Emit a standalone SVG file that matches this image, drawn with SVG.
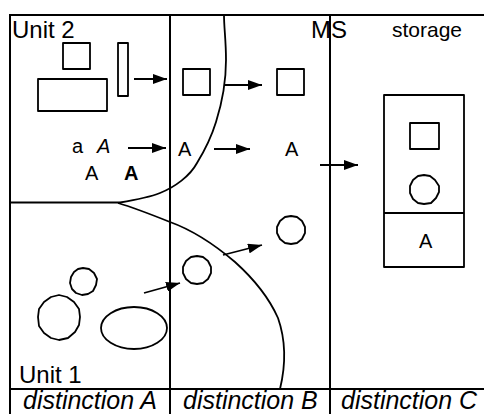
<svg xmlns="http://www.w3.org/2000/svg" width="484" height="414" viewBox="0 0 484 414">
  <style>
    .frame { fill: none; stroke: #000; stroke-width: 2; }
    .shape { fill: #fff; stroke: #000; stroke-width: 1.8; stroke-linejoin: round; }
    .curve { fill: none; stroke: #000; stroke-width: 1.8; }
    .arrow { fill: none; stroke: #000; stroke-width: 1.8; marker-end: url(#head); }
    text { font-family: "Liberation Sans", Arial, sans-serif; fill: #000; }
    .big { font-size: 24px; }
    .small { font-size: 21px; }
    .mid { font-size: 20px; }
    .cap { font-size: 25px; font-style: italic; }
  </style>
  <defs>
    <marker id="head" viewBox="0 0 14 10" refX="14" refY="5" markerUnits="userSpaceOnUse" markerWidth="14" markerHeight="10" orient="auto">
      <path d="M0,0 L14,5 L0,10 z" fill="#000"/>
    </marker>
  </defs>

  <rect width="484" height="414" fill="#fff"/>

  <!-- outer frame and column dividers -->
  <g id="grid">
    <path class="frame" d="M10,414 V15 H484"/>
    <path class="frame" d="M170,15 V414"/>
    <path class="frame" d="M330,15 V414"/>
    <path class="frame" d="M10,389 H484"/>
    <path class="frame" d="M10,202.5 H120"/>
  </g>

  <!-- unit boundaries -->
  <g id="boundaries">
    <path class="curve" d="M120,202.5 C135,200 150,197 160,193 C175,187 190,176 197,163 C205,150 212,135 216,122 C222,103 226,83 226,60 C226,40 224,28 224,15"/>
    <path class="curve" d="M118,203 C135,208 150,214 170,222 C195,231 215,245 235,262 C255,280 270,300 278,318 C285,338 287,360 280,389"/>
  </g>

  <g id="labels">
    <text class="big" x="12" y="38">Unit 2</text>
    <text class="big" x="19" y="383">Unit 1</text>
    <text class="big" x="311" y="38">MS</text>
    <text class="small" x="392" y="37">storage</text>
    <text class="cap" x="23" y="409">distinction A</text>
    <text class="cap" x="183" y="409">distinction B</text>
    <text class="cap" x="341" y="409">distinction C</text>
  </g>

  <!-- unit 2 contents -->
  <g id="u2-square"><rect class="shape" x="63" y="43" width="27" height="26"/></g>
  <g id="u2-wide"><rect class="shape" x="38" y="79" width="69" height="32"/></g>
  <g id="u2-thin"><rect class="shape" x="118" y="43" width="10" height="53"/></g>
  <g id="u2-letters" class="mid">
    <text x="72" y="153">a</text>
    <text x="97" y="153" font-style="italic">A</text>
    <text x="85" y="180">A</text>
    <text x="124" y="180" font-weight="bold">A</text>
  </g>

  <!-- distinction B contents -->
  <g id="b-square-1"><rect class="shape" x="183" y="69" width="27" height="26"/></g>
  <g id="b-square-2"><rect class="shape" x="277" y="69" width="27" height="26"/></g>
  <g id="b-letter-1"><text class="mid" x="178" y="156">A</text></g>
  <g id="b-letter-2"><text class="mid" x="285" y="156">A</text></g>
  <g id="b-round-1"><polygon class="shape" points="197,256 203,257 208,261 211,267 211,273 208,279 203,283 197,284 191,283 186,279 183,273 183,267 186,261 191,257"/></g>
  <g id="b-round-2"><polygon class="shape" points="291,216 297,217 302,221 305,227 305,233 302,239 297,243 291,244 285,243 280,239 277,233 277,227 280,221 285,217"/></g>

  <!-- unit 1 contents -->
  <g id="u1-round-small"><polygon class="shape" points="83,268 89,269 94,273 97,279 96,285 93,291 88,294 82,295 76,293 72,289 70,283 71,277 74,272 78,269"/></g>
  <g id="u1-round-big"><polygon class="shape" points="59,295 67,297 74,302 79,309 80,317 79,325 75,332 68,338 59,340 51,338 44,333 39,326 38,317 39,309 44,302 51,297"/></g>
  <g id="u1-oval"><ellipse class="shape" cx="134" cy="328" rx="33" ry="21"/></g>

  <!-- storage -->
  <g id="storage">
    <rect class="shape" x="384" y="95" width="80" height="172"/>
    <path class="frame" d="M384,213 H464"/>
    <rect class="shape" x="410" y="123" width="29" height="26"/>
    <polygon class="shape" points="424,175 430,176 435,180 439,186 439,192 436,198 431,203 424,204 418,203 413,199 410,193 410,186 413,180 418,176"/>
    <text class="mid" x="419" y="248">A</text>
  </g>

  <!-- connectors -->
  <g id="connectors">
    <line class="arrow" x1="134" y1="79" x2="167" y2="79"/>
    <line class="arrow" x1="224" y1="85" x2="262" y2="85"/>
    <line class="arrow" x1="128" y1="148" x2="166" y2="148"/>
    <line class="arrow" x1="214" y1="149" x2="250" y2="149"/>
    <line class="arrow" x1="320" y1="165" x2="358" y2="165"/>
    <line class="arrow" x1="144" y1="293" x2="180" y2="283"/>
    <line class="arrow" x1="223" y1="255" x2="262" y2="245"/>
  </g>
</svg>
